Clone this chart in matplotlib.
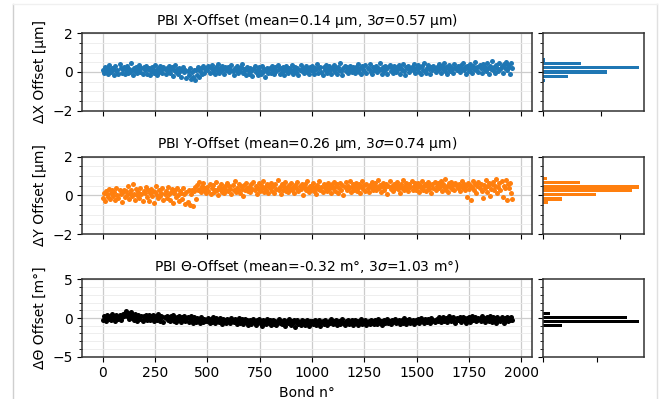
import numpy as np
import matplotlib
matplotlib.use("Agg")
import matplotlib.pyplot as plt
from matplotlib.lines import Line2D
from matplotlib.ticker import MultipleLocator

plt.rcParams['font.family'] = ['DejaVu Sans']
plt.rcParams['font.size'] = 10

# bond number (every 5th bond)
bond_no = np.arange(0, 1960, 5)

# offsets, in 1/100 of the unit
x_offset = np.array([
    12, -5, 28, 3, 18, -12, 35, 8, -2, 22, 15, -18, 30, 5, 10, -8, 40, 20, -3, 14,
    25, -10, 8, 33, -4, 16, 2, 45, 11, -14, 20, 6, 28, -6, 12, 38, 0, 18, -11, 24,
    9, 30, -9, 15, 22, -15, 5, 27, 13, -3, 36, 7, -17, 19, 2, 31, 10, -7, 24, 14,
    -12, 20, 4, 29, -5, 13, 25, -20, 8, 34, 1, 17, -9, 22, 6, -24, 15, 28, -2, 10,
    -30, 5, -18, 20, -38, 0, -25, 12, -42, 8, -15, 25, -28, 3, 18, -10, 30, -5, 14, 22,
    8, 30, -4, 19, 35, 2, 16, -12, 27, 11, 40, -6, 21, 5, 33, 14, -9, 25, 9, 18,
    28, -2, 15, 37, 6, -14, 22, 12, 31, -7, 18, 3, 26, 42, -3, 16, 8, -16, 24, 11,
    -8, 21, 4, -22, 17, 30, 0, 12, -18, 25, 7, -10, 33, 2, 15, -26, 9, 20, -4, 14,
    18, -6, 29, 10, -13, 24, 3, 36, 13, -8, 19, 1, 27, -15, 11, 32, 5, -4, 22, 16,
    7, 34, -10, 15, 26, -1, 20, -17, 12, 38, 4, 23, -7, 17, 29, 0, 13, -12, 25, 9,
    31, 6, -9, 21, 14, 40, -3, 18, 27, 2, -14, 24, 10, 35, -5, 16, 29, 8, -11, 20,
    13, 37, 0, 22, -8, 26, 11, 44, 5, -15, 19, 30, 3, 24, -6, 15, 33, 9, -2, 28,
    17, -4, 25, 12, 39, 1, 20, -10, 30, 14, 6, 35, -7, 23, 16, 42, 2, -13, 27, 10,
    21, 33, -1, 18, 8, 45, 13, -9, 26, 4, 31, 17, -12, 24, 38, 7, 19, -3, 29, 12,
    0, 27, 15, 36, -8, 22, 10, 41, 5, -14, 25, 18, 32, -2, 14, 28, 8, 43, -6, 20,
    16, 34, 2, 24, -10, 30, 12, 46, 7, -5, 21, 37, 14, -11, 27, 9, 33, 19, -1, 25,
    11, 39, 22, -4, 30, 15, 48, 6, 26, -9, 18, 35, 3, 28, 13, -7, 41, 20, 9, 31,
    24, -2, 36, 14, 45, 8, 27, -12, 33, 18, 5, 40, 22, -6, 30, 16, 50, 11, 25, 1,
    34, 19, -5, 42, 13, 28, 7, 47, 21, -8, 32, 17, 55, 10, 26, -3, 38, 23, 4, 44,
    15, 30, -6, 40, 20, 52, 8, 35, 25, -10, 45, 18,
]) / 100

y_offset = np.array([
    -15, 10, -30, 22, 5, -8, 35, -20, 12, 28, -5, 18, -25, 40, 2, -12, 25, 8, -35, 15,
    30, -10, 20, 3, 48, -18, 12, 26, -6, 60, 9, -22, 33, 0, 18, -14, 38, 6, -28, 22,
    14, 42, -8, 25, -30, 10, 35, -2, 20, -38, 16, 50, 4, -16, 28, -5, 12, 37, -22, 8,
    24, -12, 45, 6, -25, 18, 32, -40, 10, 27, -8, 40, 2, -30, 22, 13, -18, 36, 5, -45,
    15, -35, 28, -50, 8, 30, -55, 20, 42, -20, 55, 25, 70, 35, 18, 48, 62, 28, 40, 12,
    45, 22, 60, 8, 38, 52, 15, 30, 68, 25, 2, 42, 33, 58, 18, 40, 10, 50, 28, 64,
    20, 46, 35, 5, 55, 30, 72, 16, 40, 25, 60, 12, 48, 34, -2, 52, 28, 66, 38, 22,
    44, 15, 58, 32, 70, 26, 48, 8, 40, 62, 20, 52, 36, 75, 18, 45, 30, 60, 10, 50,
    38, 65, 24, 48, 12, 56, 34, 78, 28, 42, 5, 58, 30, 46, 68, 22, 40, 15, 55, 35,
    62, 28, 45, 10, 52, 38, 70, 20, 48, 32, 60, 0, 42, 56, 25, 74, 36, 18, 50, 30,
    46, 66, 22, 40, 8, 54, 34, 72, 28, 44, 15, 60, 38, 50, 20, 64, 32, 48, 10, 56,
    36, 70, 24, 46, 58, 14, 40, 62, 30, 52, 2, 44, 68, 26, 50, 36, 76, 18, 42, 58,
    28, 48, 64, 20, 40, 56, 10, 46, 72, 34, 52, 24, 60, 38, 16, 54, 42, 70, 30, 48,
    62, 26, 44, 80, 36, 54, 18, 48, 66, 30, 42, 58, 8, 50, 74, 34, 46, 22, 60, 40,
    52, 70, 32, 46, 14, 58, 40, 78, 28, 50, 64, 36, 20, 56, 44, 72, 30, 48, 62, 25,
    42, 66, 18, 54, 38, 76, 30, 48, 60, 22, 46, 70, 34, 52, 12, 58, 40, 68, 28, 50,
    64, 36, 48, 74, 24, 56, 42, 82, 30, 50, 16, 62, 44, 70, 34, 54, 26, 66, 46, 38,
    58, 20, 50, 72, 38, 60, 28, 46, -10, 66, 34, 54, -22, 42, 76, 30, 56, 10, 48, 68,
    36, 60, 24, -15, 52, 40, 78, 18, 46, 64, -5, 32, 56, 70, 26, 50, 84, 12, 44, 62,
    30, 74, -8, 48, 36, 80, -25, 56, 40, 66, 10, -18,
]) / 100

theta_offset = np.array([
    -20, 30, 5, -40, 45, 12, -15, 25, -30, 50, 0, 18, -45, 35, 8, -10, 40, -25, 15, 55,
    30, 70, 95, 20, 60, -10, 45, 80, 5, 35, -20, 50, 15, -35, 40, 10, -15, 25, -40, 30,
    5, 35, -25, 15, 45, -30, 20, -5, 40, -45, 10, 30, -20, 50, 0, -35, 25, 12, -50, 18,
    -5, 28, -30, 10, -45, 22, -15, 35, -38, 5, -55, 15, -22, 30, -8, -50, 12, -30, 20, -42,
    -10, 18, -48, -5, 25, -35, -60, 8, -25, -50, 0, -40, -15, -65, 10, -30, -55, -8, -45, -20,
    -38, 5, -60, -15, -48, 12, -30, -70, -5, -42, -20, -58, 0, -35, -75, -12, -50, -25, -62, -8,
    -45, -20, -70, 0, -38, -58, -10, -50, -80, -28, -5, -62, -35, -18, -72, -42, -8, -55, -30, -85,
    -48, -22, -75, -38, -10, -62, -90, -30, -55, -15, -70, -45, -100, -25, -60, -35, -80, -12, -52, -68,
    -30, -85, -50, -20, -72, -40, -95, -58, -15, -65, -35, -82, -48, -25, -105, -55, -38, -70, -18, -60,
    -88, -42, -65, -25, -110, -52, -32, -78, -48, -95, -20, -62, -40, -85, -55, -30, -72, -100, -45, -65,
    -35, -80, -55, -20, -90, -48, -68, -30, -105, -58, -42, -75, -25, -62, -88, -50, -38, -70, -15, -58,
    -82, -40, -65, -28, -95, -52, -35, -75, -45, -18, -68, -88, -38, -58, -22, -80, -48, -62, -30, -92,
    -50, -25, -70, -42, -85, -35, -58, -15, -78, -45, -62, -28, -90, -52, -38, -72, -20, -60, -44, -80,
    -30, -55, -75, -18, -48, -65, -35, -88, -42, -22, -68, -50, -10, -60, -38, -78, -28, -55, -45, -15,
    -70, -35, -52, -20, -82, -42, -25, -60, -5, -48, -72, -30, -55, -12, -65, -38, -22, -75, -45, -28,
    -50, -15, -62, -35, 5, -45, -25, -70, -8, -40, -55, -18, -30, -65, 0, -42, -20, -58, -32, -10,
    -45, 10, -28, -55, -12, 15, -38, -20, 5, -50, -25, 20, -8, -42, -15, 12, -35, -60, 0, -22,
    -30, 8, -48, -15, 18, -5, -38, -65, 2, -25, 10, -52, -12, 20, -30, -8, 15, -45, -20, 5,
    -10, -40, 22, -18, 5, -55, -28, 12, -5, -35, 25, -15, -48, 8, -22, -2, -60, 15, -30, -8,
    -38, 10, -15, -68, 5, -25, 18, -45, -5, -20, 12, -30,
]) / 100

# histogram bars (bin centre, count)
x_bins = [0.62, 0.43, 0.21, 0.0, -0.21, -0.42]
x_counts = [17, 323, 820, 547, 214, 20]
y_bins = [0.86, 0.64, 0.43, 0.23, 0.02, -0.19, -0.39]
y_counts = [26, 242, 622, 576, 347, 124, 37]
t_bins = [0.6, 0.1, -0.45, -1.0]
t_counts = [68, 779, 893, 177]

titles = [
    'PBI X-Offset (mean=0.14 µm, 3$\\sigma$=0.57 µm)',
    'PBI Y-Offset (mean=0.26 µm, 3$\\sigma$=0.74 µm)',
    'PBI Θ-Offset (mean=-0.32 m°, 3$\\sigma$=1.03 m°)',
]
ylabels = ['ΔX Offset [µm]', 'ΔY Offset [µm]', 'ΔΘ Offset [m°]']

fig = plt.figure(figsize=(6.61, 3.99), dpi=100)

rows = [
    (x_offset, x_bins, x_counts, 0.21, '#1f77b4', 2, 0.5, 0.7226),
    (y_offset, y_bins, y_counts, 0.21, '#ff7f0e', 2, 0.5, 0.4135),
    (theta_offset, t_bins, t_counts, 0.54, 'black', 5, 1, 0.106),
]

spine_col = '#333333'
for i, (vals, bins, counts, bw, col, lim, minor, bottom) in enumerate(rows):
    ax = fig.add_axes([0.1245, bottom, 0.681, 0.194])
    axh = fig.add_axes([0.821, bottom, 0.1528, 0.194], sharey=ax)

    ax.plot(bond_no, vals, 'o', color=col, markersize=3.6, markeredgewidth=0)
    axh.barh(bins, counts, height=bw * 0.75, color=col)

    ax.set_ylim(-lim, lim)
    ax.set_yticks([-lim, 0, lim])
    ax.yaxis.set_minor_locator(MultipleLocator(minor))
    ax.set_xticks(range(0, 2001, 250))
    ax.grid(which='major', color='#cccccc', linewidth=0.9)
    ax.grid(which='minor', axis='y', color='#ebebeb', linewidth=0.6)
    ax.set_axisbelow(True)
    ax.set_title(titles[i], fontsize=10)
    ax.set_ylabel(ylabels[i])
    if i < 2:
        ax.tick_params(labelbottom=False)
    else:
        ax.set_xlabel('Bond n°')

    axh.set_xticks([0, 500])
    axh.tick_params(labelleft=False, labelbottom=False)

    for a in (ax, axh):
        for s in a.spines.values():
            s.set_color(spine_col)
            s.set_linewidth(1.1)

# screenshot frame around the figure
fig.add_artist(Line2D([12.5 / 661, 12.5 / 661], [0, 1 - 4 / 399], color='#cfcfcf', lw=1))
fig.add_artist(Line2D([657 / 661, 657 / 661], [0, 1 - 4 / 399], color='#e0e0e0', lw=1))
fig.add_artist(Line2D([12.5 / 661, 657 / 661], [1 - 4 / 399, 1 - 4 / 399], color='#f0f0f0', lw=1))

fig.savefig('out.png', dpi=100)
